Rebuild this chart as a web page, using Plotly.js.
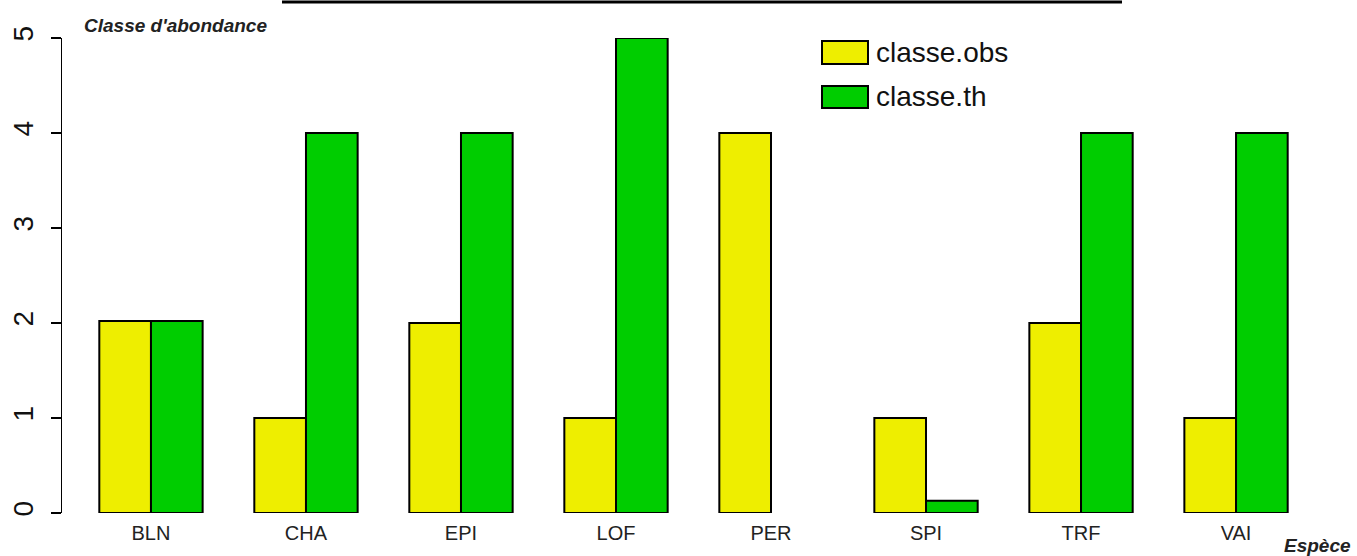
<!DOCTYPE html>
<html>
<head>
<meta charset="utf-8">
<script src="https://cdn.plot.ly/plotly-3.0.1.min.js"></script>
<style>html,body{margin:0;padding:0;background:#fff;}#chart{width:1357px;height:556px;}</style>
</head>
<body>
<div id="chart"></div>
<script>
const categories = ["BLN", "CHA", "EPI", "LOF", "PER", "SPI", "TRF", "VAI"];
const classeObs = [2.02, 1, 2, 1, 4, 1, 2, 1];
const classeTh = [2.02, 4, 4, 5, 0, 0.13, 4, 4];
const seriesNames = ["classe.obs", "classe.th"];
const yTicks = [0, 1, 2, 3, 4, 5];

const W = 1357, H = 556;
const L = 62, T = 38, B = 43, R = 32;
const PW = W - L - R, PH = H - T - B;
const px = x => (x - L) / PW;
const py = y => (H - B - y) / PH;

const FONT = "Liberation Sans, Arial, sans-serif";
const YELLOW = "#EEEE00", GREEN = "#00CD00";
const outline = vals => vals.map(v => (v === 0 ? 0 : 2));

const traces = [
  {type: "bar", name: seriesNames[0], x: categories, y: classeObs,
   marker: {color: YELLOW, line: {color: "#000", width: outline(classeObs)}}, hoverinfo: "skip"},
  {type: "bar", name: seriesNames[1], x: categories, y: classeTh,
   marker: {color: GREEN, line: {color: "#000", width: outline(classeTh)}}, hoverinfo: "skip"}
];

const layout = {
  width: W, height: H,
  margin: {l: L, r: R, t: T, b: B, pad: 0},
  paper_bgcolor: "#fff", plot_bgcolor: "#fff",
  barmode: "group", bargap: 1/3, bargroupgap: 0,
  showlegend: false,
  font: {family: FONT, color: "#000"},
  xaxis: {
    type: "category", range: [-0.574, 7.574],
    showline: false, showgrid: false, zeroline: false, ticks: "",
    tickfont: {size: 20, color: "#222", family: FONT},
    ticklabelstandoff: 6
  },
  yaxis: {
    range: [0, 5], tickvals: yTicks, ticktext: yTicks.map(String),
    showline: true, linecolor: "#000", linewidth: 1.5,
    showgrid: false, zeroline: false,
    ticks: "outside", ticklen: 10, tickwidth: 1.5, tickcolor: "#000",
    tickangle: -90, tickfont: {size: 28, color: "#111", family: FONT},
    ticklabelstandoff: 6
  },
  shapes: [
    {type: "line", xref: "paper", yref: "paper", x0: px(282), x1: px(1122), y0: py(2), y1: py(2),
     line: {color: "#000", width: 3}},
    {type: "rect", xref: "paper", yref: "paper", x0: px(822), x1: px(868), y0: py(64), y1: py(41),
     fillcolor: YELLOW, line: {color: "#000", width: 2}},
    {type: "rect", xref: "paper", yref: "paper", x0: px(822), x1: px(868), y0: py(108), y1: py(86),
     fillcolor: GREEN, line: {color: "#000", width: 2}}
  ],
  annotations: [
    {xref: "paper", yref: "paper", x: px(874), y: py(53), xanchor: "left", yanchor: "middle",
     text: seriesNames[0], showarrow: false, font: {size: 28, color: "#111", family: FONT}},
    {xref: "paper", yref: "paper", x: px(874), y: py(97), xanchor: "left", yanchor: "middle",
     text: seriesNames[1], showarrow: false, font: {size: 28, color: "#111", family: FONT}},
    {xref: "paper", yref: "paper", x: px(82), y: py(26), xanchor: "left", yanchor: "middle",
     text: "<b><i>Classe d'abondance</i></b>", showarrow: false, font: {size: 19, color: "#222", family: FONT}},
    {xref: "paper", yref: "paper", x: px(1353), y: py(545), xanchor: "right", yanchor: "middle",
     text: "<b><i>Espèce</i></b>", showarrow: false, font: {size: 19, color: "#222", family: FONT}}
  ]
};

Plotly.newPlot("chart", traces, layout, {displayModeBar: false, staticPlot: true});
</script>
</body>
</html>
